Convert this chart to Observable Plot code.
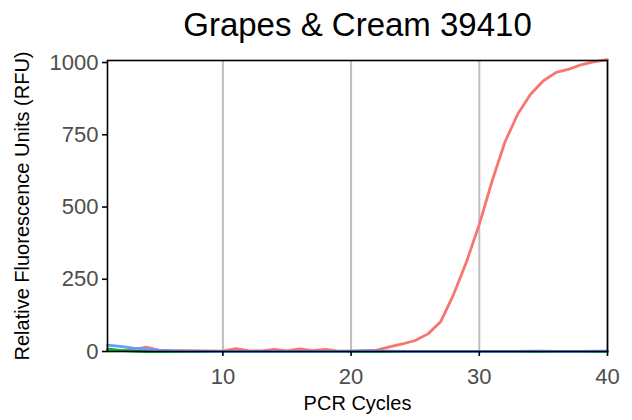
<!DOCTYPE html>
<html>
<head>
<meta charset="utf-8">
<script src="https://cdn.jsdelivr.net/npm/d3@7"></script>
<script src="https://cdn.jsdelivr.net/npm/@observablehq/plot@0.6"></script>
<style>
  body { margin: 0; background: #fff; }
  #chart svg { font-family: "Liberation Sans", Arial, sans-serif; }
</style>
</head>
<body>
<div id="chart"></div>
<script>
const title = "Grapes & Cream 39410";
const xLabel = "PCR Cycles";
const yLabel = "Relative Fluorescence Units (RFU)";
const cycles = d3.range(1, 41);
const xTicks = [10, 20, 30, 40];
const yTicks = [0, 250, 500, 750, 1000];
const seriesNames = ["A", "B", "C"];
const seriesColors = ["#F8766D", "#00BA38", "#619CFF"];
const redValues = [3, 3, 6, 15, 5, 3, 3, 2, 2, 1, 10, 3, 2, 7, 2, 9, 3, 7, 1, 1, 3, 5, 16, 26, 38, 61, 104, 198, 310, 440, 590, 725, 822, 890, 937, 966, 977, 993, 1003, 1010];
const greenValues = [9, 4, 1, 0, 0, 0, 0, 0, 0, 0, 0, 0, 0, 0, 0, 0, 0, 0, 0, 0, 0, 0, 0, 0, 0, 0, 0, 0, 0, 0, 0, 0, 0, 0, 0, 0, 0, 0, 0, 0];
const blueValues = [22, 18, 12, 8, 4, 2, 1, 1, 0, 0, 0, 0, 0, 0, 0, 0, 0, 0, 0, 1, 2, 2, 1, 0, 0, 0, 0, 0, 0, 0, 0, 0, 0, 1, 1, 0, 0, 0, 1, 1];

const allSeries = [redValues, greenValues, blueValues];
const data = [];
allSeries.forEach((vals, si) => {
  vals.forEach((v, i) => data.push({cycle: cycles[i], rfu: v, series: seriesNames[si]}));
});

const plot = Plot.plot({
  width: 632,
  height: 420,
  marginLeft: 107,
  marginRight: 25,
  marginTop: 60,
  marginBottom: 69,
  x: {domain: [1, 40]},
  y: {domain: [0, 1007]},
  color: {domain: seriesNames, range: seriesColors},
  style: {fontFamily: "'Liberation Sans', Arial, sans-serif", background: "white"},
  marks: [
    Plot.ruleX(xTicks, {stroke: "#BEBEBE", strokeWidth: 2}),
    Plot.line(data, {x: "cycle", y: "rfu", z: "series", stroke: "series", strokeWidth: 2.8}),
    Plot.frame({stroke: "black", strokeWidth: 1.6}),
    Plot.axisX({ticks: xTicks, tickSize: 5, tickPadding: 12, fontSize: 22, stroke: "black", strokeWidth: 1.6, fill: "#4D4D4D", label: null, tickFormat: d => String(d)}),
    Plot.axisY({ticks: yTicks, tickSize: 5, tickPadding: 4, fontSize: 22, stroke: "black", strokeWidth: 1.6, fill: "#4D4D4D", label: null, tickFormat: d => String(d)}),
    Plot.text([xLabel], {frameAnchor: "bottom", lineAnchor: "middle", dy: 52, fontSize: 20, fill: "black"}),
    Plot.text([yLabel], {frameAnchor: "left", textAnchor: "middle", lineAnchor: "middle", rotate: -90, dx: -85, fontSize: 20, fill: "black"}),
    Plot.text([title], {frameAnchor: "top", lineAnchor: "middle", dy: -35, fontSize: 33, fill: "black"})
  ]
});
document.getElementById("chart").appendChild(plot);
</script>
</body>
</html>
